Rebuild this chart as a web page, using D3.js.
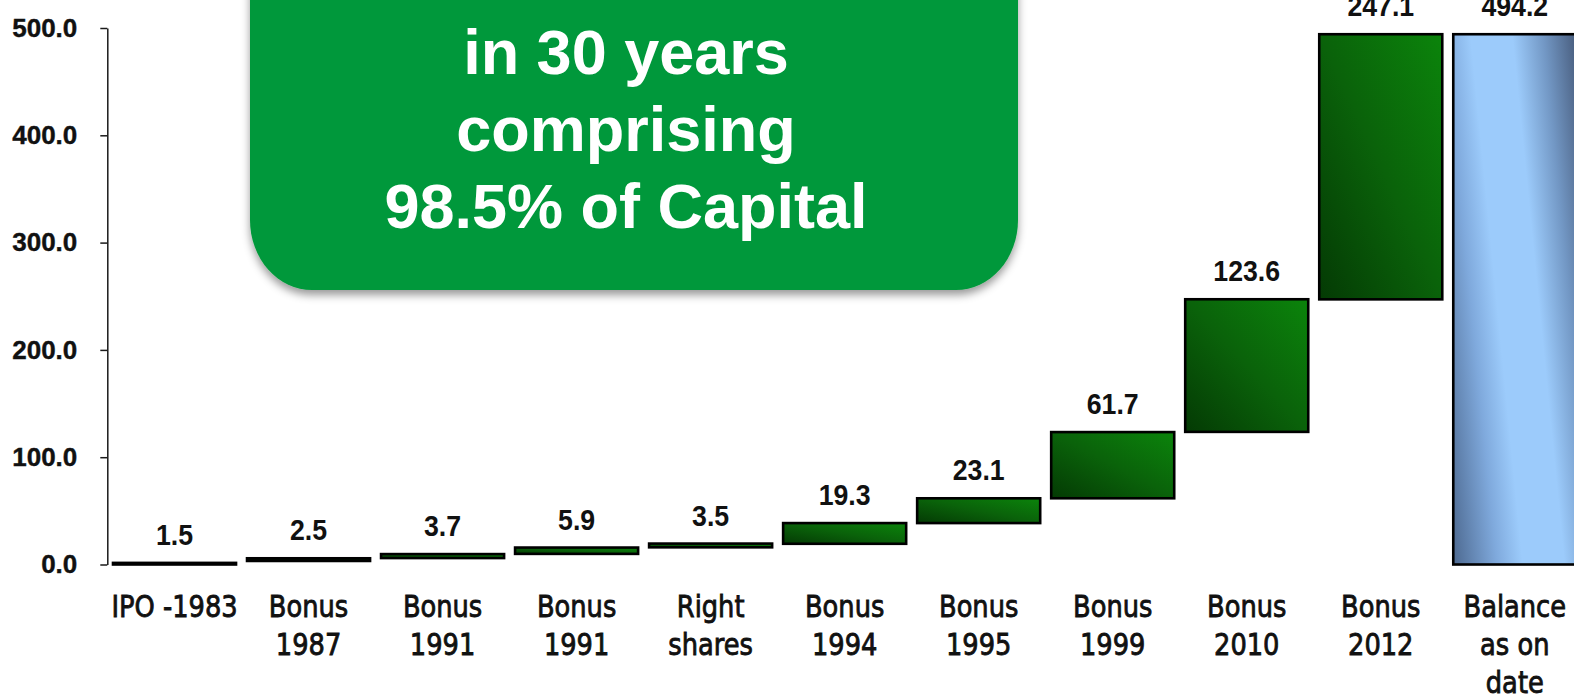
<!DOCTYPE html>
<html>
<head>
<meta charset="utf-8">
<script src="https://cdn.jsdelivr.net/npm/d3@7"></script>
<style>
  html, body { margin: 0; padding: 0; background: #fff; overflow: hidden; }
  svg { display: block; }
</style>
</head>
<body>
<div id="chart"></div>
<script>
// categories (multi-line x labels)
const categories = [
  ["IPO -1983"],
  ["Bonus", "1987"],
  ["Bonus", "1991"],
  ["Bonus", "1991"],
  ["Right", "shares"],
  ["Bonus", "1994"],
  ["Bonus", "1995"],
  ["Bonus", "1999"],
  ["Bonus", "2010"],
  ["Bonus", "2012"],
  ["Balance", "as on", "date"]
];
// increment shown on each bar
const values = [1.5, 2.5, 3.7, 5.9, 3.5, 19.3, 23.1, 61.7, 123.6, 247.1, 494.2];
// where each floating bar starts
const starts = [0, 3.3, 6.0, 9.9, 16.0, 19.3, 38.6, 61.7, 123.6, 247.1, 0];
const isTotal = [false, false, false, false, false, false, false, false, false, false, true];
const yTicks = [0, 100, 200, 300, 400, 500];
const calloutLines = ["in 30 years", "comprising", "98.5% of Capital"];

const width = 1574;
const height = 696;

const svg = d3.select("#chart")
  .append("svg")
  .attr("width", width)
  .attr("height", height);

const x = d3.scaleBand()
  .domain(d3.range(categories.length))
  .range([107.3, 1582])
  .paddingInner(0.082)
  .paddingOuter(0.0425);

const y = d3.scaleLinear()
  .domain([0, 500])
  .range([564.5, 28]);

const defs = svg.append("defs");

const green = defs.append("linearGradient")
  .attr("id", "greenGrad")
  .attr("x1", 0).attr("y1", 1)
  .attr("x2", 1).attr("y2", 0);
green.append("stop").attr("offset", "0%").attr("stop-color", "#043a04");
green.append("stop").attr("offset", "50%").attr("stop-color", "#0a620a");
green.append("stop").attr("offset", "100%").attr("stop-color", "#0b840b");

// total bar: light band running diagonally, dark towards bottom-left and top-right
const tIdx = isTotal.indexOf(true);
const bx0 = x(tIdx), bx1 = bx0 + x.bandwidth();
const by0 = y(0), by1 = y(starts[tIdx] + values[tIdx]);
const blue = defs.append("linearGradient")
  .attr("id", "blueGrad")
  .attr("gradientUnits", "userSpaceOnUse")
  .attr("x1", bx0).attr("y1", by0)
  .attr("x2", bx0 + (bx1 - bx0) * 1.4).attr("y2", by0 - 17);
blue.append("stop").attr("offset", "0%").attr("stop-color", "#4d6990");
blue.append("stop").attr("offset", "25%").attr("stop-color", "#7fa9dc");
blue.append("stop").attr("offset", "40%").attr("stop-color", "#9ccbfb");
blue.append("stop").attr("offset", "64%").attr("stop-color", "#9ccbfb");
blue.append("stop").attr("offset", "82%").attr("stop-color", "#7297c4");
blue.append("stop").attr("offset", "100%").attr("stop-color", "#4a5f80");

const shadow = defs.append("filter")
  .attr("id", "boxShadow")
  .attr("x", "-10%").attr("y", "-10%")
  .attr("width", "120%").attr("height", "130%");
shadow.append("feDropShadow")
  .attr("dx", 0).attr("dy", 5)
  .attr("stdDeviation", 4)
  .attr("flood-color", "#000")
  .attr("flood-opacity", 0.4);

// y axis
const yAxis = svg.append("g")
  .attr("transform", "translate(107.3,0)")
  .call(d3.axisLeft(y)
    .tickValues(yTicks)
    .tickFormat(d3.format(".1f"))
    .tickSize(7)
    .tickSizeOuter(0)
    .tickPadding(23));
yAxis.select(".domain").attr("stroke", "#1a1a1a").attr("stroke-width", 1.5);
yAxis.selectAll(".tick line").attr("stroke", "#1a1a1a").attr("stroke-width", 1.5);
yAxis.selectAll(".tick text")
  .attr("fill", "#111")
  .attr("stroke", "#111")
  .attr("stroke-width", 0.4)
  .style("font-family", "'Liberation Sans', Arial, sans-serif")
  .style("font-weight", "bold")
  .style("font-size", "26px");

// bars
svg.append("g")
  .selectAll("rect")
  .data(values)
  .join("rect")
  .attr("x", (d, i) => x(i))
  .attr("width", x.bandwidth())
  .attr("y", (d, i) => y(starts[i] + d))
  .attr("height", (d, i) => y(starts[i]) - y(starts[i] + d))
  .attr("fill", (d, i) => isTotal[i] ? "url(#blueGrad)" : "url(#greenGrad)")
  .attr("stroke", "#000")
  .attr("stroke-width", 2.6);

// value labels
svg.append("g")
  .selectAll("text")
  .data(values)
  .join("text")
  .attr("transform", (d, i) =>
    `translate(${x(i) + x.bandwidth() / 2},${y(starts[i] + d) - 18}) scale(0.89,1)`)
  .attr("text-anchor", "middle")
  .attr("fill", "#111")
  .style("font-family", "'Liberation Sans', Arial, sans-serif")
  .style("font-weight", "bold")
  .style("font-size", "30px")
  .text(d => d3.format(".1f")(d));

// category labels
const catG = svg.append("g")
  .selectAll("g")
  .data(categories)
  .join("g")
  .attr("transform", (d, i) => `translate(${x(i) + x.bandwidth() / 2},0)`);

catG.selectAll("text")
  .data(d => d)
  .join("text")
  .attr("transform", (d, j) => `translate(0,${617 + j * 38.2}) scale(0.83,1)`)
  .attr("text-anchor", "middle")
  .attr("fill", "#111")
  .attr("stroke", "#111")
  .attr("stroke-width", 0.9)
  .style("font-family", "'DejaVu Sans', sans-serif")
  .style("font-size", "31px")
  .text(d => d);

// callout box
const callout = svg.append("g");
callout.append("rect")
  .attr("x", 250)
  .attr("y", -120)
  .attr("width", 768)
  .attr("height", 410)
  .attr("rx", 62)
  .attr("ry", 70)
  .attr("fill", "#01983a")
  .attr("filter", "url(#boxShadow)");

callout.selectAll("text")
  .data(calloutLines)
  .join("text")
  .attr("x", 626)
  .attr("y", (d, i) => 74 + i * 77)
  .attr("text-anchor", "middle")
  .attr("fill", "#fff")
  .style("font-family", "'Liberation Sans', Arial, sans-serif")
  .style("font-weight", "bold")
  .style("font-size", "63px")
  .text(d => d);
</script>
</body>
</html>
